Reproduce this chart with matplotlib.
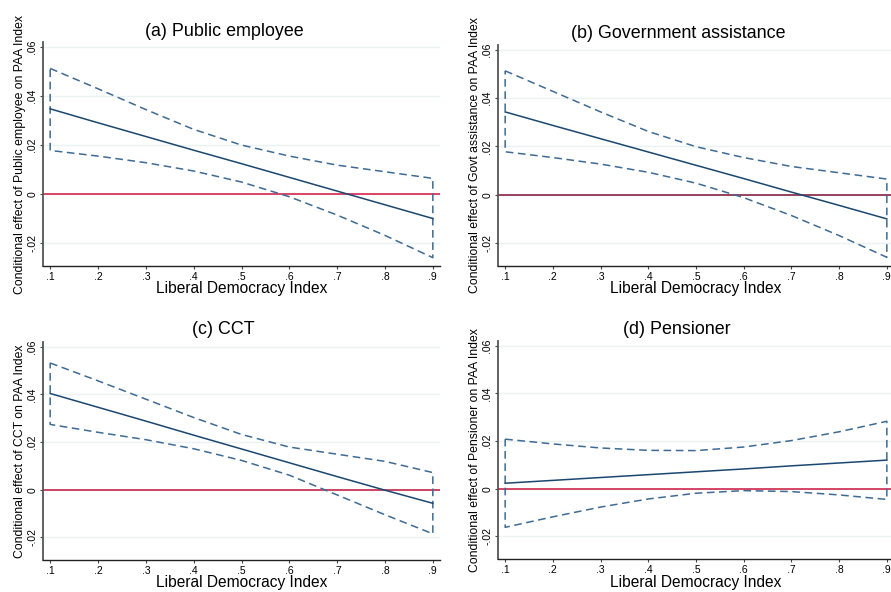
import matplotlib
matplotlib.use("Agg")
import matplotlib.pyplot as plt
import matplotlib.transforms as mtransforms
import numpy as np

plt.rcParams['font.family'] = ['Liberation Sans', 'DejaVu Sans']

x_vals = [0.1, 0.2, 0.3, 0.4, 0.5, 0.6, 0.7, 0.8, 0.9]
x_ticks = [0.1, 0.2, 0.3, 0.4, 0.5, 0.6, 0.7, 0.8, 0.9]
x_tick_labels = ['.1', '.2', '.3', '.4', '.5', '.6', '.7', '.8', '.9']
y_ticks = [-0.02, 0.0, 0.02, 0.04, 0.06]
y_tick_labels = ['-.02', '0', '.02', '.04', '.06']

titles = ['(a) Public employee', '(b) Government assistance', '(c) CCT', '(d) Pensioner']
ylabels = ['Conditional effect of Public employee on PAA Index',
           'Conditional effect of Govt assistance on PAA Index',
           'Conditional effect of CCT on PAA Index',
           'Conditional effect of Pensioner on PAA Index']
xlabel = 'Liberal Democracy Index'

# effect estimates
mean_a = [0.0347, 0.0290, 0.0234, 0.0178, 0.0123, 0.0067, 0.0011, -0.0045, -0.0101]
upper_a = [0.0512, 0.0429, 0.0344, 0.0263, 0.0199, 0.0154, 0.0117, 0.0090, 0.0063]
lower_a = [0.0177, 0.0154, 0.0127, 0.0093, 0.0048, -0.0012, -0.0087, -0.0170, -0.0261]

mean_b = [0.0343, 0.0287, 0.0232, 0.0177, 0.0122, 0.0067, 0.0011, -0.0044, -0.0100]
upper_b = [0.0513, 0.0428, 0.0343, 0.0262, 0.0199, 0.0154, 0.0117, 0.0091, 0.0065]
lower_b = [0.0178, 0.0154, 0.0127, 0.0093, 0.0048, -0.0012, -0.0086, -0.0169, -0.0259]

mean_c = [0.0404, 0.0346, 0.0288, 0.0229, 0.0171, 0.0113, 0.0055, -0.0002, -0.0057]
upper_c = [0.0532, 0.0457, 0.0380, 0.0303, 0.0232, 0.0179, 0.0149, 0.0119, 0.0072]
lower_c = [0.0274, 0.0241, 0.0210, 0.0172, 0.0123, 0.0061, -0.0022, -0.0105, -0.0185]

mean_d = [0.0023, 0.0035, 0.0047, 0.0059, 0.0071, 0.0083, 0.0096, 0.0108, 0.0120]
upper_d = [0.0208, 0.0188, 0.0171, 0.0161, 0.0160, 0.0175, 0.0202, 0.0239, 0.0283]
lower_d = [-0.0162, -0.0118, -0.0077, -0.0043, -0.0019, -0.0008, -0.0012, -0.0026, -0.0045]

means = [mean_a, mean_b, mean_c, mean_d]
uppers = [upper_a, upper_b, upper_c, upper_d]
lowers = [lower_a, lower_b, lower_c, lower_d]
zero_colors = ['#d31540', '#7d1232', '#c0163c', '#cc1540']

W, H = 891, 592
fig = plt.figure(figsize=(W / 100, H / 100), dpi=100)
fig.patch.set_facecolor('white')

# pixel boxes: left, top, right, bottom
boxes = [(43, 42, 440, 266), (498, 45, 894, 266), (43, 342, 440, 560), (498, 341, 894, 559)]
title_pos = [(224, 32), (678, 33), (223, 330), (677, 329)]
xlabel_y = [289, 289, 582, 582]

for i, (l, t, r, b) in enumerate(boxes):
    ax = fig.add_axes([l / W, 1 - b / H, (r - l) / W, (b - t) / H])
    ax.set_xlim(0.085, 0.915)
    ax.set_ylim(-0.0295, 0.062)
    for yv in y_ticks:
        ax.axhline(yv, color='#eaf2f3', lw=1.0, zorder=0)
    ax.axhline(0, color=zero_colors[i], lw=1.1, zorder=2)
    # CI outline
    xs = list(x_vals) + [x_vals[-1]] + list(x_vals[::-1]) + [x_vals[0]]
    ys = list(uppers[i]) + [lowers[i][-1]] + list(lowers[i][::-1]) + [uppers[i][0]]
    ax.plot(xs, ys, color='#3e6a94', lw=1.1, ls=(0, (5, 3)), zorder=3)
    ax.plot(x_vals, means[i], color='#1a476f', lw=1.1, zorder=4)
    ax.set_xticks(x_ticks)
    ax.set_xticklabels(x_tick_labels, fontsize=7.5)
    ax.set_yticks(y_ticks)
    ax.set_yticklabels(y_tick_labels, fontsize=7.5, rotation=90, va='center')
    ax.tick_params(axis='both', length=2.5, width=0.8, color='#444444', pad=1.5)
    for s in ['top', 'right']:
        ax.spines[s].set_visible(False)
    ax.spines['left'].set_color('#555555')
    ax.spines['left'].set_linewidth(1.3)
    ax.spines['bottom'].set_color('#222222')
    ax.spines['bottom'].set_linewidth(1.0)
    ax.set_xlabel(xlabel, fontsize=11.2)
    trans = mtransforms.blended_transform_factory(ax.transAxes, fig.transFigure)
    ax.xaxis.set_label_coords(0.5, 1 - xlabel_y[i] / H, transform=trans)
    ax.xaxis.label.set_va('center')
    ax.set_ylabel(ylabels[i], fontsize=8.8, labelpad=1)
    ax.set_facecolor('white')
    tx, ty = title_pos[i]
    fig.text(tx / W, 1 - ty / H, titles[i], fontsize=12.9, ha='center', va='center')

fig.savefig('out.png', dpi=100, facecolor='white')
